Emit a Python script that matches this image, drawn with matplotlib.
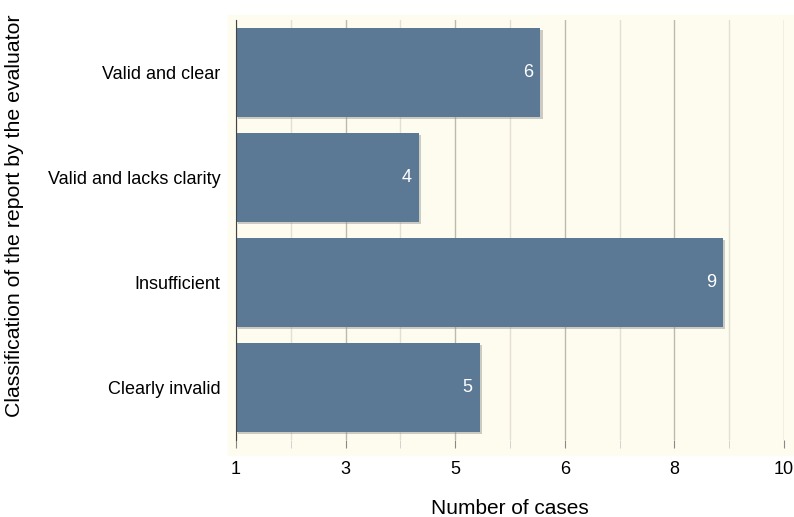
import matplotlib.pyplot as plt
import matplotlib.patheffects as pe
from matplotlib.patches import Rectangle
import numpy as np

plt.rcParams['font.family'] = ['Liberation Sans', 'DejaVu Sans']

categories = ["Clearly invalid", "Insufficient", "Valid and lacks clarity", "Valid and clear"]
cases = [5, 9, 4, 6]

x_min, x_max = 1, 10
ticks = np.linspace(x_min, x_max, 11)   # chart software put ticks every 0.9
bar_color = "#5b7895"
cream = "#fefcef"

fig = plt.figure(figsize=(7.94, 5.17), dpi=100)
# cream plot background a bit wider than the axes
fig.patches.append(Rectangle((228 / 794, 1 - 455 / 517), 1 - 228 / 794, (455 - 15) / 517,
                             transform=fig.transFigure, color=cream, zorder=0))
ax = fig.add_axes([236 / 794, 1 - 440 / 517, 548 / 794, 420 / 517])
ax.set_zorder(2)
ax.set_facecolor("none")

y = np.arange(len(categories))
bars = ax.barh(y, np.array(cases) - x_min, left=x_min, height=0.84, color=bar_color, zorder=3)
for b in bars:
    b.set_path_effects([pe.SimplePatchShadow(offset=(1.5, -1.5), shadow_rgbFace="#999999", alpha=0.5),
                        pe.Normal()])

for yi, v in zip(y, cases):
    ax.text(v - 0.12, yi, str(v), color="white", ha="right", va="center", fontsize=13, zorder=4)

ax.set_xlim(x_min, x_max)
ax.set_ylim(-0.5, len(categories) - 0.5)
ax.set_xticks(ticks[::2])
ax.set_xticklabels([f"{t:.0f}" for t in ticks[::2]])
ax.set_xticks(ticks[1::2], minor=True)
ax.set_yticks(y)
ax.set_yticklabels(categories)

ax.grid(axis="x", which="major", color="#bdb9ae", lw=1, zorder=1)
ax.grid(axis="x", which="minor", color="#e3e0d3", lw=1, zorder=1)
ax.tick_params(axis="x", which="major", length=6, color="#888888", labelsize=13, pad=9)
ax.tick_params(axis="x", which="minor", length=6, color="#cccccc")
ax.tick_params(axis="y", length=0, labelsize=13, pad=11)

for s in ["top", "right", "bottom"]:
    ax.spines[s].set_visible(False)
ax.spines["left"].set_color("#444444")
ax.spines["left"].set_zorder(5)

ax.set_xlabel("Number of cases", fontsize=15, labelpad=15)
ax.set_ylabel("Classification of the report by the evaluator", fontsize=15.3)
ax.yaxis.set_label_coords(-0.387, 0.535)

fig.savefig("out.png", dpi=100)
